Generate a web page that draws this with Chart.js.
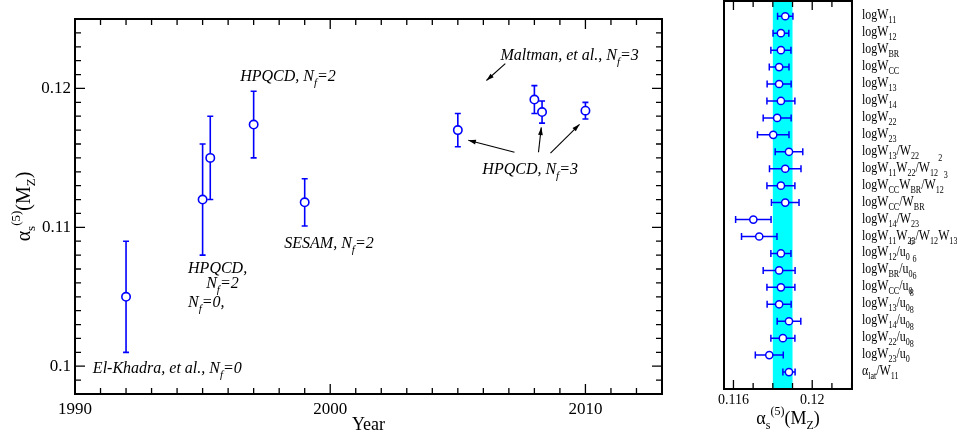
<!DOCTYPE html>
<html>
<head>
<meta charset="utf-8">
<script src="https://cdn.jsdelivr.net/npm/chart.js@4.4.1/dist/chart.umd.min.js"></script>
<style>
  html, body { margin: 0; padding: 0; background: #fff; }
  #wrap { position: relative; width: 957px; height: 437px; overflow: hidden; }
  canvas { position: absolute; top: 0; }
  #left { left: 0; }
  #right { left: 700px; }
</style>
</head>
<body>
<div id="wrap">
  <canvas id="left" width="700" height="437"></canvas>
  <canvas id="right" width="257" height="437"></canvas>
</div>
<script>
'use strict';

// ---- left panel: alpha_s determinations by year
const years = [1992, 1995, 1995.3, 1997, 1999, 2005, 2008, 2008.3, 2010];
const alphas = [0.1050, 0.1120, 0.1150, 0.1174, 0.1118, 0.1170, 0.1192, 0.1183, 0.1184];
const alphaErr = [0.0040, 0.0040, 0.0030, 0.0024, 0.0017, 0.0012, 0.0010, 0.0008, 0.0006];

const yearTicks = [1990, 2000, 2010];
const yearTickLabels = ['1990', '2000', '2010'];
const alphaTicks = [0.10, 0.11, 0.12];
const alphaTickLabels = ['0.1', '0.11', '0.12'];

// text notes (data coords, left edge / baseline)
const noteText = ['HPQCD, N_{f}=2', 'Maltman, et al., N_{f}=3', 'HPQCD, N_{f}=3', 'SESAM, N_{f}=2',
                  'HPQCD,', 'N_{f}=2', 'N_{f}=0,', 'El-Khadra, et al., N_{f}=0'];
const noteX = [1996.47, 2006.67, 2005.96, 1998.2, 1994.43, 1995.14, 1994.43, 1990.7];
const noteY = [0.12057, 0.12208, 0.11383, 0.10853, 0.10674, 0.10566, 0.10423, 0.09950];

// arrows from labels to points
const arrowX1 = [2006.86, 2007.22, 2008.16, 2008.63];
const arrowY1 = [0.12179, 0.11541, 0.11541, 0.11534];
const arrowX2 = [2006.12, 2005.41, 2008.27, 2009.77];
const arrowY2 = [0.12057, 0.11627, 0.11720, 0.11742];

// ---- right panel: individual lattice quantities
const rowLabels = [
  'logW_{11}', 'logW_{12}', 'logW_{BR}', 'logW_{CC}', 'logW_{13}', 'logW_{14}', 'logW_{22}', 'logW_{23}',
  'logW_{13}/W_{22}', 'logW_{11}W_{22}/W_{12}^{2}', 'logW_{CC}W_{BR}/W_{12}^{3}', 'logW_{CC}/W_{BR}',
  'logW_{14}/W_{23}', 'logW_{11}W_{23}/W_{12}W_{13}', 'logW_{12}/u_{0}^{6}', 'logW_{BR}/u_{0}^{6}',
  'logW_{CC}/u_{0}^{6}', 'logW_{13}/u_{0}^{8}', 'logW_{14}/u_{0}^{8}', 'logW_{22}/u_{0}^{8}',
  'logW_{23}/u_{0}^{8}', '\u03b1_{lat}/W_{11}'
];
const rowValues = [0.11863, 0.11841, 0.11841, 0.11832, 0.11832, 0.11841, 0.11822, 0.11802,
                   0.11882, 0.11863, 0.11841, 0.11863, 0.11701, 0.11731, 0.11841, 0.11832,
                   0.11841, 0.11832, 0.11882, 0.11851, 0.11782, 0.11882];
const rowErr = [0.00039, 0.00040, 0.00051, 0.00050, 0.00061, 0.00071, 0.00071, 0.00080,
                0.00070, 0.00080, 0.00071, 0.00070, 0.00090, 0.00090, 0.00051, 0.00081,
                0.00071, 0.00061, 0.00060, 0.00061, 0.00071, 0.00031];
const bandLow = 0.1180;
const bandHigh = 0.1190;
const rightTicks = [0.116, 0.12];
const rightTickLabels = ['0.116', '0.12'];

const BLUE = '#0000ff';
const SERIF = '"Liberation Serif", "Times New Roman", serif';

// simple sub/superscript text: a_{sub} b^{sup}
function richRuns(str) {
  const runs = [];
  let i = 0, buf = '';
  while (i < str.length) {
    const c = str[i];
    if ((c === '_' || c === '^') && str[i + 1] === '{') {
      if (buf) { runs.push({t: buf, m: 0}); buf = ''; }
      const end = str.indexOf('}', i);
      runs.push({t: str.slice(i + 2, end), m: c === '_' ? 1 : 2});
      i = end + 1;
    } else { buf += c; i++; }
  }
  if (buf) runs.push({t: buf, m: 0});
  return runs;
}

function drawRich(ctx, str, x, y, st) {
  const runs = richRuns(str);
  const sizes = [st.size, st.small, st.small];
  const dys = [0, st.subDy, st.supDy];
  const sx = st.sx || 1;
  const font = s => (st.italic ? 'italic ' : '') + s + 'px ' + SERIF;
  let w = 0;
  runs.forEach(r => { ctx.font = font(sizes[r.m]); r.w = ctx.measureText(r.t).width; w += r.w; });
  ctx.save();
  ctx.translate(x, y);
  ctx.scale(sx, 1);
  let cx = st.align === 'center' ? -w / 2 : 0;
  ctx.textAlign = 'left';
  ctx.textBaseline = 'alphabetic';
  ctx.fillStyle = '#000';
  runs.forEach(r => {
    ctx.font = font(sizes[r.m]);
    ctx.fillText(r.t, cx, dys[r.m]);
    cx += r.w;
  });
  ctx.restore();
}

function arrow(ctx, x1, y1, x2, y2) {
  ctx.beginPath(); ctx.moveTo(x1, y1); ctx.lineTo(x2, y2); ctx.stroke();
  const a = Math.atan2(y2 - y1, x2 - x1), L = 8, w = 0.3;
  ctx.beginPath();
  ctx.moveTo(x2, y2);
  ctx.lineTo(x2 - L * Math.cos(a - w), y2 - L * Math.sin(a - w));
  ctx.lineTo(x2 - L * Math.cos(a + w), y2 - L * Math.sin(a + w));
  ctx.closePath();
  ctx.fill();
}

// inward ticks on all four sides
function drawXTicks(ctx, ca, sx, vals, len, top) {
  vals.forEach(v => {
    const p = sx.getPixelForValue(v);
    ctx.beginPath();
    ctx.moveTo(p, ca.bottom); ctx.lineTo(p, ca.bottom - len);
    if (top) { ctx.moveTo(p, ca.top); ctx.lineTo(p, ca.top + len); }
    ctx.stroke();
  });
}
function drawYTicks(ctx, ca, sy, vals, len) {
  vals.forEach(v => {
    const p = sy.getPixelForValue(v);
    ctx.beginPath();
    ctx.moveTo(ca.left, p); ctx.lineTo(ca.left + len, p);
    ctx.moveTo(ca.right, p); ctx.lineTo(ca.right - len, p);
    ctx.stroke();
  });
}

const leftDecor = {
  id: 'leftDecor',
  beforeDatasetsDraw(chart) {
    const {ctx, scales: {x, y}} = chart;
    ctx.save();
    ctx.strokeStyle = BLUE;
    ctx.lineWidth = 1.6;
    years.forEach((yr, i) => {
      const px = x.getPixelForValue(yr);
      const lo = y.getPixelForValue(alphas[i] - alphaErr[i]);
      const hi = y.getPixelForValue(alphas[i] + alphaErr[i]);
      ctx.beginPath();
      ctx.moveTo(px, lo); ctx.lineTo(px, hi);
      ctx.moveTo(px - 3, lo); ctx.lineTo(px + 3, lo);
      ctx.moveTo(px - 3, hi); ctx.lineTo(px + 3, hi);
      ctx.stroke();
    });
    ctx.restore();
  },
  afterDraw(chart) {
    const {ctx, chartArea: ca, scales: {x, y}} = chart;
    ctx.save();
    ctx.strokeStyle = '#000';
    ctx.fillStyle = '#000';
    ctx.lineWidth = 1.3;
    const minorX = [];
    for (let v = 1991; v < 2013; v++) if (v % 10) minorX.push(v);
    drawXTicks(ctx, ca, x, minorX, 6, true);
    drawXTicks(ctx, ca, x, yearTicks, 10, true);
    const minorY = [];
    for (let k = 99; k <= 124; k++) if (k % 10) minorY.push(k / 1000);
    drawYTicks(ctx, ca, y, minorY, 6);
    drawYTicks(ctx, ca, y, alphaTicks, 10);
    ctx.lineWidth = 2;
    ctx.strokeRect(ca.left, ca.top, ca.right - ca.left, ca.bottom - ca.top);

    const noteStyle = {size: 16, small: 11, subDy: 5, supDy: -7, italic: true};
    noteText.forEach((t, i) => {
      drawRich(ctx, t, x.getPixelForValue(noteX[i]), y.getPixelForValue(noteY[i]), noteStyle);
    });
    ctx.lineWidth = 1.1;
    arrowX1.forEach((v, i) => {
      arrow(ctx, x.getPixelForValue(v), y.getPixelForValue(arrowY1[i]),
            x.getPixelForValue(arrowX2[i]), y.getPixelForValue(arrowY2[i]));
    });

    drawRich(ctx, 'Year', (ca.left + ca.right) / 2, 430, {size: 18, small: 12, subDy: 0, supDy: 0, align: 'center'});
    ctx.translate(30, (ca.top + ca.bottom) / 2);
    ctx.rotate(-Math.PI / 2);
    drawRich(ctx, '\u03b1_{s}^{(5)}(M_{Z})', 0, 0, {size: 20, small: 13, subDy: 5, supDy: -10, align: 'center'});
    ctx.restore();
  }
};

const rightDecor = {
  id: 'rightDecor',
  beforeDatasetsDraw(chart) {
    const {ctx, chartArea: ca, scales: {x, y}} = chart;
    ctx.save();
    ctx.fillStyle = '#00ffff';
    const b0 = x.getPixelForValue(bandLow), b1 = x.getPixelForValue(bandHigh);
    ctx.fillRect(b0, ca.top, b1 - b0, ca.bottom - ca.top);
    ctx.strokeStyle = BLUE;
    ctx.lineWidth = 1.5;
    rowValues.forEach((v, i) => {
      const py = y.getPixelForValue(i + 1);
      const lo = x.getPixelForValue(v - rowErr[i]);
      const hi = x.getPixelForValue(v + rowErr[i]);
      ctx.beginPath();
      ctx.moveTo(lo, py); ctx.lineTo(hi, py);
      ctx.moveTo(lo, py - 3.5); ctx.lineTo(lo, py + 3.5);
      ctx.moveTo(hi, py - 3.5); ctx.lineTo(hi, py + 3.5);
      ctx.stroke();
    });
    ctx.restore();
  },
  afterDraw(chart) {
    const {ctx, chartArea: ca, scales: {x, y}} = chart;
    ctx.save();
    ctx.strokeStyle = '#000';
    ctx.lineWidth = 1.3;
    const minorX = [0.117, 0.118, 0.119, 0.121, 0.122];
    drawXTicks(ctx, ca, x, minorX, 6, true);
    drawXTicks(ctx, ca, x, rightTicks, 9, true);
    ctx.lineWidth = 2;
    ctx.strokeRect(ca.left, ca.top, ca.right - ca.left, ca.bottom - ca.top);

    const rowStyle = {size: 14, small: 9.5, subDy: 4, supDy: -11, sx: 0.85};
    rowLabels.forEach((t, i) => {
      drawRich(ctx, t, ca.right + 10, y.getPixelForValue(i + 1) + 3, rowStyle);
    });
    drawRich(ctx, '\u03b1_{s}^{(5)}(M_{Z})', (ca.left + ca.right) / 2, 424,
             {size: 18, small: 12, subDy: 5, supDy: -9, align: 'center'});
    ctx.restore();
  }
};

const tickFont = size => ({family: SERIF, size: size});

new Chart(document.getElementById('left'), {
  type: 'scatter',
  data: {
    datasets: [{
      data: years.map((yr, i) => ({x: yr, y: alphas[i]})),
      pointRadius: 4.2,
      pointHoverRadius: 4.2,
      pointBorderWidth: 1.6,
      pointBackgroundColor: '#fff',
      pointBorderColor: BLUE
    }]
  },
  options: {
    responsive: false,
    animation: false,
    events: [],
    layout: {autoPadding: false, padding: {left: 0, right: 38, top: 19, bottom: 0}},
    plugins: {legend: {display: false}, tooltip: {enabled: false}},
    scales: {
      x: {
        type: 'linear', min: 1990, max: 2013,
        grid: {display: false, drawTicks: false}, border: {display: false},
        afterBuildTicks: s => { s.ticks = yearTicks.map(v => ({value: v})); },
        afterFit: s => { s.height = 43; },
        ticks: {font: tickFont(17), color: '#000', padding: 5, maxRotation: 0, autoSkip: false,
                callback: (v, i) => yearTickLabels[i]}
      },
      y: {
        type: 'linear', min: 0.098, max: 0.125,
        grid: {display: false, drawTicks: false}, border: {display: false},
        afterBuildTicks: s => { s.ticks = alphaTicks.map(v => ({value: v})); },
        afterFit: s => { s.width = 75; },
        ticks: {font: tickFont(17), color: '#000', padding: 4, autoSkip: false,
                callback: (v, i) => alphaTickLabels[i]}
      }
    }
  },
  plugins: [leftDecor]
});

new Chart(document.getElementById('right'), {
  type: 'scatter',
  data: {
    datasets: [{
      data: rowValues.map((v, i) => ({x: v, y: i + 1})),
      pointRadius: 3.6,
      pointHoverRadius: 3.6,
      pointBorderWidth: 1.5,
      pointBackgroundColor: '#fff',
      pointBorderColor: BLUE
    }]
  },
  options: {
    responsive: false,
    animation: false,
    events: [],
    layout: {autoPadding: false, padding: {left: 24, right: 105, top: 1, bottom: 0}},
    plugins: {legend: {display: false}, tooltip: {enabled: false}},
    scales: {
      x: {
        type: 'linear', min: 0.11552, max: 0.12202,
        grid: {display: false, drawTicks: false}, border: {display: false},
        afterBuildTicks: s => { s.ticks = rightTicks.map(v => ({value: v})); },
        afterFit: s => { s.height = 48; },
        ticks: {font: tickFont(14), color: '#000', padding: 3, maxRotation: 0, autoSkip: false,
                callback: (v, i) => rightTickLabels[i]}
      },
      y: {type: 'linear', min: 0.1, max: 23, reverse: true, display: false}
    }
  },
  plugins: [rightDecor]
});
</script>
</body>
</html>
